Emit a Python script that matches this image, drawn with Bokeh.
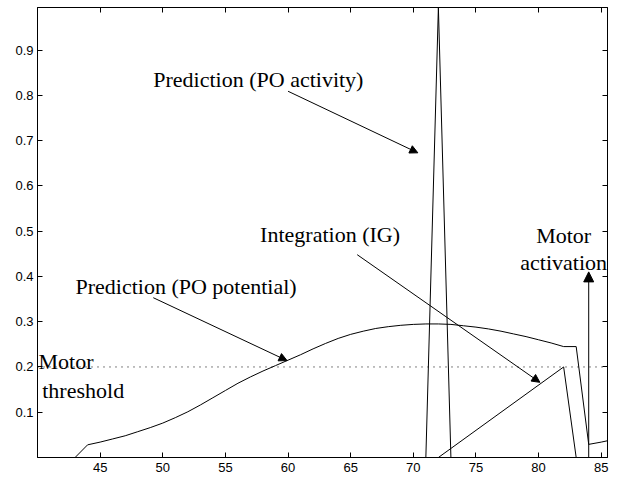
from bokeh.plotting import figure
from bokeh.models import Range1d, LinearAxis, FixedTicker, Label, Arrow, NormalHead, Span
from bokeh.embed import file_html
from bokeh.resources import INLINE

# PO potential (smooth curve with late drop)
pot_x = [43, 44, 45, 46, 47, 48, 49, 50, 51, 52, 53, 54, 55, 56, 57, 58, 59, 60,
         61, 62, 63, 64, 65, 66, 67, 68, 69, 70, 71, 72, 73, 74, 75, 76, 77, 78,
         79, 80, 81, 82, 83, 84, 85, 85.5]
pot_y = [0.0, 0.028, 0.034, 0.041, 0.048, 0.057, 0.066, 0.076, 0.088, 0.101, 0.116,
         0.132, 0.148, 0.164, 0.178, 0.191, 0.203, 0.215, 0.227, 0.240, 0.252, 0.263,
         0.272, 0.279, 0.285, 0.289, 0.292, 0.294, 0.295, 0.295, 0.294, 0.291, 0.288,
         0.284, 0.279, 0.273, 0.267, 0.260, 0.253, 0.245, 0.245, 0.029, 0.034, 0.037]
# PO activity spike
act_x = [71, 72, 73]
act_y = [0.0, 0.994, 0.0]
# Integration (IG)
ig_x = [72, 82, 83]
ig_y = [0.0, 0.2, 0.0]
# Motor threshold
threshold = 0.2
# Ticks
x_ticks = [45, 50, 55, 60, 65, 70, 75, 80, 85]
y_ticks = [0.1, 0.2, 0.3, 0.4, 0.5, 0.6, 0.7, 0.8, 0.9]

p = figure(width=615, height=476, x_range=Range1d(40, 85.5), y_range=Range1d(0, 0.994),
           output_backend="svg", toolbar_location=None,
           min_border_left=37, min_border_right=8, min_border_top=7, min_border_bottom=19)
p.grid.visible = False
p.outline_line_color = "black"
p.outline_line_width = 1
p.background_fill_color = "white"
p.border_fill_color = "white"

def style_axis(ax, show_labels=True):
    ax.axis_line_color = "black"
    ax.major_tick_line_color = "black"
    ax.major_tick_in = 5
    ax.major_tick_out = 0
    ax.minor_tick_line_color = None
    ax.major_label_text_font = "Liberation Sans"
    if show_labels:
        ax.major_label_text_color = "black"
        ax.major_label_text_font_size = "13px"
        ax.major_label_standoff = 5
    else:
        ax.major_label_text_color = None
        ax.major_label_text_font_size = "1px"
        ax.major_label_standoff = 0

p.xaxis.ticker = FixedTicker(ticks=x_ticks)
p.yaxis.ticker = FixedTicker(ticks=y_ticks)
style_axis(p.xaxis[0])
style_axis(p.yaxis[0])
p.yaxis[0].major_label_standoff = 4

ax_top = LinearAxis(ticker=FixedTicker(ticks=x_ticks))
style_axis(ax_top, False)
p.add_layout(ax_top, "above")
ax_right = LinearAxis(ticker=FixedTicker(ticks=y_ticks))
style_axis(ax_right, False)
p.add_layout(ax_right, "right")

p.line(pot_x, pot_y, line_color="black", line_width=1)
p.line(act_x, act_y, line_color="black", line_width=1)
p.line(ig_x, ig_y, line_color="black", line_width=1)
p.add_layout(Span(location=threshold, dimension="width", line_color="black",
                  line_width=1, line_dash="1 5"))

# Arrows
def arrow(x0, y0, x1, y1, size=8):
    p.add_layout(Arrow(end=NormalHead(size=size, fill_color="black", line_color="black", line_width=1),
                       x_start=x0, y_start=y0, x_end=x1, y_end=y1,
                       line_color="black", line_width=1))

arrow(60.0, 0.809, 70.36, 0.673)
arrow(49.24, 0.353, 59.92, 0.214)
arrow(65.52, 0.448, 80.1, 0.166)
arrow(84.0, 0.0, 84.0, 0.41, size=10)

def label(x, y, t, align="left"):
    p.add_layout(Label(x=x, y=y, text=t, text_font="Liberation Serif", text_font_size="22px",
                       text_color="black", text_align=align, text_baseline="alphabetic"))

label(49.24, 0.834, "Prediction (PO activity)")
label(43.03, 0.378, "Prediction (PO potential)")
label(57.77, 0.492, "Integration (IG)")
label(82.0, 0.49, "Motor", "center")
label(82.0, 0.43, "activation", "center")
label(40.08, 0.2126, "Motor")
label(40.38, 0.1486, "threshold")

open("out.html", "w").write(file_html(p, INLINE))
